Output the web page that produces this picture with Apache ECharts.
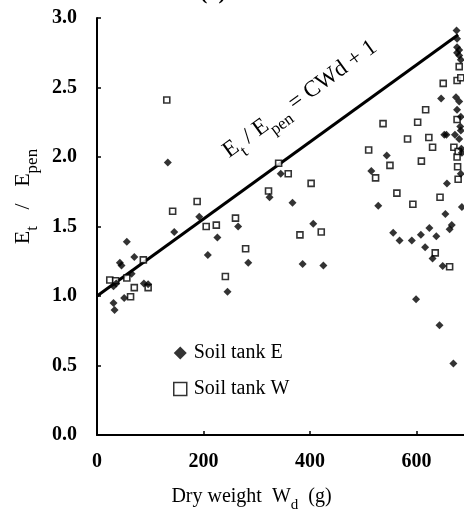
<!DOCTYPE html>
<html><head><meta charset="utf-8">
<script src="https://cdn.jsdelivr.net/npm/echarts@6/dist/echarts.min.js"></script>
<style>html,body{margin:0;padding:0;background:#fff}#c{width:464px;height:511px}</style>
</head><body><div id="c"></div>
<script>
// ---------- data ----------
const seriesNames = ['Soil tank E', 'Soil tank W'];
const xTickValues = [0, 200, 400, 600];
const yTickValues = [0.0, 0.5, 1.0, 1.5, 2.0, 2.5, 3.0];
const xVisibleMax = 689;

const tankE = [
  [31,0.95],[33,0.90],[51,0.985],[31,1.07],[36,1.09],[43,1.24],[46,1.22],[56,1.39],[65,1.16],[70,1.28],[88,1.09],[96,1.085],
  [133,1.96],[145,1.46],[192,1.57],[208,1.295],[226,1.42],[245,1.03],[265,1.50],[284,1.24],[324,1.71],[345,1.88],
  [367,1.67],[386,1.23],[406,1.52],[425,1.22],
  [515,1.90],[528,1.65],[544,2.01],[556,1.455],[568,1.40],[591,1.40],[599,0.976],[608,1.44],[616,1.35],[624,1.49],
  [630,1.27],[637,1.43],[643,0.79],[646,2.42],[649,1.215],[652,2.16],[656,2.16],[654,1.59],[657,1.81],[662,1.48],
  [666,1.51],[669,0.515],[672,2.16],[674,2.43],[675,2.91],[676,2.85],[676,2.79],[680,2.77],[676,2.75],[680,2.73],
  [683,2.70],[680,2.40],[676,2.34],[683,2.29],[682,2.22],[683,2.19],[680,2.13],[684,2.06],[685,2.03],[683,1.88],[685,1.64]
];
const tankW = [
  [24,1.115],[35,1.11],[56,1.13],[63,0.995],[70,1.06],[87,1.26],[96,1.06],
  [131,2.41],[142,1.61],[188,1.68],[205,1.50],[224,1.51],[241,1.14],[260,1.56],[279,1.34],[322,1.755],[341,1.955],
  [359,1.88],[381,1.44],[402,1.81],[421,1.46],
  [510,2.05],[523,1.85],[537,2.24],[550,1.94],[563,1.74],[583,2.13],[593,1.66],[602,2.25],[609,1.97],[617,2.34],
  [623,2.14],[630,2.07],[635,1.31],[644,1.71],[650,2.53],[662,1.21],[670,2.07],[676,2.00],[677,1.93],[678,1.84],
  [676,2.55],[683,2.57],[680,2.65],[676,2.27],[678,2.04]
];
// fitted line  Et/Epen = C*Wd + 1  (end points)
const lineWd = [0, 678];
const lineRatio = [1.0, 2.88];

// ---------- chart ----------
const FONT = 'Liberation Serif';
const chart = echarts.init(document.getElementById('c'), null, {renderer: 'canvas'});
const rich = {
  n: {fontFamily: FONT, fontSize: 20, color: '#000', lineHeight: 20, verticalAlign: 'top'},
  s: {fontFamily: FONT, fontSize: 15, color: '#000', lineHeight: 26, verticalAlign: 'bottom'}
};
const richY = {
  n: {fontFamily: FONT, fontSize: 22, color: '#000', lineHeight: 22, verticalAlign: 'top'},
  s: {fontFamily: FONT, fontSize: 17, color: '#000', lineHeight: 29, verticalAlign: 'bottom'}
};
const richBig = {
  n: {fontFamily: FONT, fontSize: 23, color: '#000', lineHeight: 23, verticalAlign: 'top'},
  s: {fontFamily: FONT, fontSize: 17, color: '#000', lineHeight: 30, verticalAlign: 'bottom'}
};
chart.setOption({
  animation: false,
  backgroundColor: '#fff',
  grid: {left: 97, right: 0, top: 18, bottom: 76, containLabel: false, outerBoundsMode: 'none'},
  xAxis: {
    type: 'value', min: xTickValues[0], max: xVisibleMax, interval: xTickValues[1] - xTickValues[0],
    axisLine: {show: true, onZero: false, lineStyle: {color: '#000', width: 2}},
    axisTick: {show: true, inside: true, length: 4, lineStyle: {color: '#000', width: 1.5}},
    splitLine: {show: false},
    axisLabel: {show: true, showMaxLabel: false, margin: 17, color: '#000', fontFamily: FONT, fontSize: 20, fontWeight: 'bold',
      formatter: v => xTickValues.includes(v) ? String(v) : ''},
    name: '{n|Dry weight  W}{s|d}{n|  (g)}',
    nameLocation: 'middle', nameGap: 52,
    nameTextStyle: {rich: rich, padding: [0, 58, 0, 0]}
  },
  yAxis: {
    type: 'value', min: yTickValues[0], max: yTickValues[yTickValues.length - 1], interval: yTickValues[1] - yTickValues[0],
    axisLine: {show: true, onZero: false, lineStyle: {color: '#000', width: 2}},
    axisTick: {show: true, inside: true, length: 4, lineStyle: {color: '#000', width: 1.5}},
    splitLine: {show: false},
    axisLabel: {margin: 20, color: '#000', fontFamily: FONT, fontSize: 20, fontWeight: 'bold', formatter: v => v.toFixed(1)},
    name: '{n|E}{s|t}{n|   /   E}{s|pen}',
    nameLocation: 'middle', nameGap: 46, nameRotate: 90,
    nameTextStyle: {rich: richY, padding: [0, 0, 0, 60]}
  },
  legend: {
    orient: 'vertical', left: 168, top: 338, itemWidth: 13, itemHeight: 13, itemGap: 16,
    textStyle: {fontFamily: FONT, fontSize: 20, color: '#000', padding: [0, 0, 0, 2]},
    data: [
      {name: seriesNames[0], icon: 'diamond', itemStyle: {color: '#000', borderWidth: 0}},
      {name: seriesNames[1], icon: 'rect', itemStyle: {color: '#fff', borderColor: '#000', borderWidth: 1.5}}
    ]
  },
  graphic: [
    {type: 'text', x: 238, y: 4, silent: true,
      style: {text: '(a)  Coil', fontFamily: FONT, fontSize: 22, fontWeight: 'bold', fill: '#000', align: 'center', verticalAlign: 'bottom'}},
    {type: 'text', x: 302, y: 102, rotation: 36 * Math.PI / 180, silent: true,
      style: {text: '{n|E}{s|t}{n| / E}{s|pen}{n| = CWd + 1}', rich: richBig, align: 'center', verticalAlign: 'middle'}}
  ],
  series: [
    {type: 'line', name: 'fit', data: lineWd.map((w, i) => [w, lineRatio[i]]), symbol: 'none', silent: true,
      lineStyle: {color: '#000', width: 3}, z: 1},
    {type: 'scatter', name: seriesNames[0], data: tankE, symbol: 'diamond', symbolSize: 8,
      itemStyle: {color: '#000'}, z: 3},
    {type: 'scatter', name: seriesNames[1], data: tankW, symbol: 'rect', symbolSize: 6,
      itemStyle: {color: '#fff', borderColor: '#000', borderWidth: 1.6}, z: 2}
  ]
});
</script></body></html>
